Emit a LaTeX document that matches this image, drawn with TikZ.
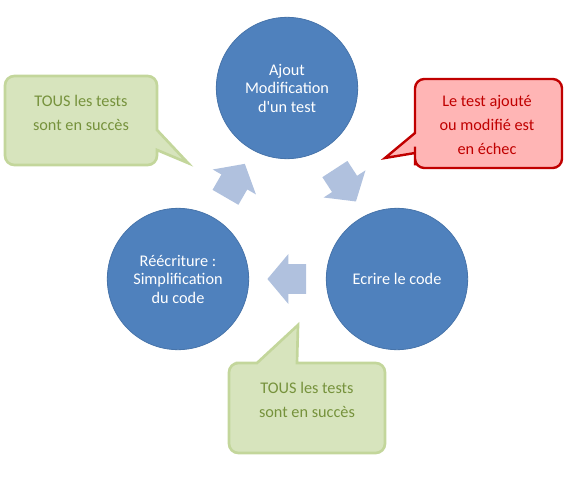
\documentclass[tikz,border=0pt]{standalone}
\usepackage{fontspec}
\setmainfont{Carlito}
\usetikzlibrary{shapes.arrows}

\definecolor{bleucercle}{HTML}{4F81BD}
\definecolor{bleuclair}{HTML}{B0C1DE}
\definecolor{vertfond}{HTML}{D7E4BD}
\definecolor{vertbord}{HTML}{C3D69B}
\definecolor{verttexte}{HTML}{76923C}
\definecolor{rosefond}{HTML}{FFB5B5}
\definecolor{rougebord}{HTML}{C00000}

\tikzset{
  etape/.style={circle, fill=bleucercle, draw=bleucercle!90!black, line width=0.6pt,
    minimum size=106pt, inner sep=0pt, align=center, text=white,
    font=\fontsize{12.2}{13.9}\selectfont},
  flechebloc/.style={single arrow, fill=bleuclair, minimum height=29pt, inner xsep=0pt,
    inner ysep=11pt, single arrow head extend=7.5pt, single arrow tip angle=100},
  bulleverte/.style={fill=vertfond, draw=vertbord, line width=2pt, rounded corners=7pt},
  bullerouge/.style={fill=rosefond, draw=rougebord, line width=1.8pt, rounded corners=7pt},
  texteverte/.style={align=center, text=verttexte, font=\fontsize{12.2}{18}\selectfont},
  texterouge/.style={align=center, text=rougebord, font=\fontsize{12.2}{18}\selectfont},
}

\begin{document}
\begin{tikzpicture}[x=0.75pt, y=-0.75pt]
    \useasboundingbox (0,0) rectangle (570,481);

    % 1. les trois etapes du cycle
    \node[etape] (ajout) at (287,88) {Ajout\\Modification\\d\textquotesingle{}un test};
    \node[etape] (ecrire) at (397,279) {Ecrire le code};
    \node[etape] (reecriture) at (178,279) {Réécriture~:\\Simplification\\du code};

    % 2. les fleches entre les etapes
    \node[flechebloc, rotate=-57] (f1) at (342,180) {};
    \node[flechebloc, rotate=180] (f2) at (293,279) {};
    \node[flechebloc, rotate=60] (f3) at (232,186) {};

    % 3. bulle verte en haut a gauche
    \draw[bulleverte] (81,76) -- (157,76) -- (157,110) [sharp corners] -- (157,130)
      -- (188,163) -- (157,150) -- (157,152) [rounded corners=7pt] -- (157,165)
      -- (5,165) -- (5,76) -- cycle;
    \node[texteverte] (succes1) at (81,112.5) {TOUS les tests\\sont en succès};

    % 4. bulle rouge a droite
    \draw[bullerouge] (488,79) -- (562,79) -- (562,168) -- (415,168) -- (415,156)
      [sharp corners] -- (415,153) -- (385,158) -- (415,133) -- (415,128)
      [rounded corners=7pt] -- (415,79) -- cycle;
    \node[texterouge] (echec) at (487,124.5) {Le test ajouté\\ou modifié est\\en échec};

    % 5. bulle verte en bas
    \draw[bulleverte] (229,408) -- (229,363) -- (245,363) [sharp corners] -- (257,363)
      -- (298,325) -- (297,363) -- (310,363) [rounded corners=7pt] -- (385,363)
      -- (385,453) -- (229,453) -- cycle;
    \node[texteverte] (succes2) at (307,400) {TOUS les tests\\sont en succès};
  \end{tikzpicture}
\end{document}
